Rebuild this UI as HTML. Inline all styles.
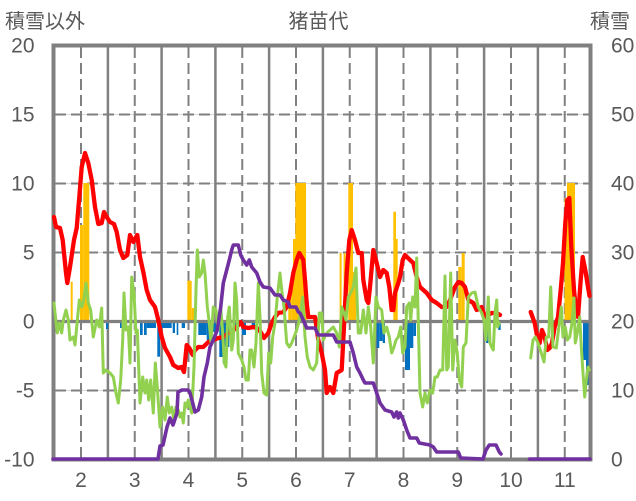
<!DOCTYPE html>
<html><head><meta charset="utf-8"><style>
html,body{margin:0;padding:0;background:#fff;}
svg{display:block;}
text{font-family:"Liberation Sans","Noto Sans CJK JP",sans-serif;fill:#595959;}
.cjk{font-family:"Liberation Sans","Noto Sans CJK JP",sans-serif;font-size:20px;}
.num{font-size:21px;}
</style></head><body>
<svg width="636" height="501" viewBox="0 0 636 501" xmlns="http://www.w3.org/2000/svg">
<rect width="636" height="501" fill="#fff"/>
<!-- light grid -->
<g stroke="#D9D9D9" stroke-width="1">
<line x1="55" y1="114.5" x2="589" y2="114.5"/><line x1="55" y1="183.5" x2="589" y2="183.5"/>
<line x1="55" y1="252.5" x2="589" y2="252.5"/><line x1="55" y1="390.5" x2="589" y2="390.5"/>
</g>
<!-- dashed horizontal -->
<g stroke="#808080" stroke-width="2" stroke-dasharray="11 5" fill="none">
<line x1="55" y1="114.5" x2="589" y2="114.5"/><line x1="55" y1="183.5" x2="589" y2="183.5"/>
<line x1="55" y1="252.5" x2="589" y2="252.5"/><line x1="55" y1="390.5" x2="589" y2="390.5"/>
</g>
<!-- vertical dashed at month centers -->
<g stroke="#808080" stroke-width="2" stroke-dasharray="11 5" fill="none">
<line x1="81" y1="47" x2="81" y2="458"/><line x1="134.75" y1="47" x2="134.75" y2="458"/>
<line x1="188.5" y1="47" x2="188.5" y2="458"/><line x1="242.25" y1="47" x2="242.25" y2="458"/>
<line x1="296" y1="47" x2="296" y2="458"/><line x1="349.75" y1="47" x2="349.75" y2="458"/>
<line x1="403.5" y1="47" x2="403.5" y2="458"/><line x1="457.25" y1="47" x2="457.25" y2="458"/>
<line x1="511" y1="47" x2="511" y2="458"/><line x1="564.75" y1="47" x2="564.75" y2="458"/>
</g>
<!-- vertical solid at month boundaries -->
<g stroke="#808080" stroke-width="2.5">
<line x1="107.9" y1="45" x2="107.9" y2="459"/><line x1="161.6" y1="45" x2="161.6" y2="459"/>
<line x1="215.4" y1="45" x2="215.4" y2="459"/><line x1="269.1" y1="45" x2="269.1" y2="459"/>
<line x1="322.9" y1="45" x2="322.9" y2="459"/><line x1="376.6" y1="45" x2="376.6" y2="459"/>
<line x1="430.4" y1="45" x2="430.4" y2="459"/><line x1="484.1" y1="45" x2="484.1" y2="459"/>
<line x1="537.9" y1="45" x2="537.9" y2="459"/>
</g>
<!-- orange bars -->
<g fill="#FFC000">
<rect x="70.7" y="281.7" width="2" height="39.8"/>
<rect x="80" y="225" width="3.3" height="96.5"/>
<rect x="83.3" y="183" width="6" height="138.5"/>
<rect x="187.3" y="280.7" width="4.4" height="40.8"/>
<rect x="191.7" y="308" width="2.3" height="13.5"/>
<rect x="288.3" y="293" width="3.4" height="28.5"/>
<rect x="291.7" y="280.7" width="1.6" height="40.8"/>
<rect x="293" y="239" width="2.5" height="82.5"/>
<rect x="295.3" y="183" width="10.7" height="138.5"/>
<rect x="305" y="280.7" width="2.3" height="40.8"/>
<rect x="339.6" y="253" width="2" height="68.5"/>
<rect x="343.6" y="253" width="2" height="68.5"/>
<rect x="348.3" y="183" width="4.7" height="138.5"/>
<rect x="352.7" y="272" width="3.3" height="49.5"/>
<rect x="393.3" y="211.7" width="2.7" height="109.8"/>
<rect x="395.7" y="239" width="2" height="82.5"/>
<rect x="458.3" y="267" width="3.4" height="54.5"/>
<rect x="461.7" y="253" width="3" height="68.5"/>
<rect x="564.5" y="198" width="2.7" height="123.5"/>
<rect x="567" y="183" width="8" height="138.5"/>
</g>
<!-- blue bars -->
<g fill="#0070C0">
<rect x="106" y="321" width="2.3" height="8"/>
<rect x="120" y="321" width="1.7" height="7"/>
<rect x="140" y="321" width="2.7" height="14"/>
<rect x="144" y="321" width="2.7" height="14"/>
<rect x="146.7" y="321" width="9.3" height="7"/>
<rect x="157.3" y="321" width="2.7" height="35.7"/>
<rect x="160" y="321" width="11.7" height="7"/>
<rect x="172.7" y="321" width="2.3" height="12"/>
<rect x="176.7" y="321" width="1.6" height="14"/>
<rect x="181.7" y="321" width="3.3" height="7"/>
<rect x="198.3" y="321" width="8.4" height="14"/>
<rect x="206.7" y="321" width="3.3" height="19"/>
<rect x="210" y="321" width="6" height="11"/>
<rect x="219.3" y="321" width="3.4" height="36"/>
<rect x="222.7" y="321" width="2.3" height="42"/>
<rect x="225" y="321" width="4.3" height="26"/>
<rect x="232.7" y="321" width="4" height="9"/>
<rect x="241.7" y="321" width="4.3" height="14"/>
<rect x="251.7" y="321" width="3.3" height="5"/>
<rect x="376.7" y="321" width="2.6" height="27"/>
<rect x="379.3" y="321" width="3.4" height="20"/>
<rect x="382.7" y="321" width="2.3" height="22"/>
<rect x="405" y="321" width="5" height="49"/>
<rect x="410" y="321" width="3.3" height="27"/>
<rect x="413.3" y="321" width="2.7" height="15"/>
<rect x="486" y="321" width="2.3" height="22"/>
<rect x="498.3" y="321" width="2.4" height="9"/>
<rect x="583" y="321" width="3" height="39"/>
<rect x="586" y="321" width="4" height="64"/>
</g>
<!-- zero line -->
<line x1="54" y1="321.5" x2="590" y2="321.5" stroke="#808080" stroke-width="3.3"/>
<!-- border -->
<rect x="53.5" y="45.5" width="537" height="414" fill="none" stroke="#808080" stroke-width="4"/>
<!-- red line -->
<g fill="none" stroke="#FF0000" stroke-width="4.3" stroke-linejoin="round" stroke-linecap="round">
<polyline points="54,217 56,227 60,228 62.7,240 66,273 67.3,283 70,267 74,240 76.7,228 79.3,197 81.7,167 85,153 88.3,163 91.7,180 95,207 98.3,224 101.7,223 104,212 106.7,217 110,222 114,224 116.7,232 120,250 123.3,258 127.3,255 130,235 133.3,242 137.3,235 140,257 143.3,272 146.7,290 150,300 155,307 158.3,320 161.7,337 165,348 170,357 173.3,365 178.3,368 181.7,367 184,372 186.7,345 189.3,348 192.7,355 195,350 198.3,347 203.3,347 208.3,342 213.3,340 218.3,338 223.3,337 228.3,333 231.7,332 236.7,327 240.7,322 243.3,327 248.3,328 253.3,327 256.7,328 260.7,332 264,338 268.3,333 271.7,323 275,317 278.3,313 283.3,312 286.7,307 290,293 293.3,273 296.7,260 299.3,253 303.3,260 305,280 306.7,303 308.3,317 311.7,317 315,317 318.3,340 321.7,353 325,370 326.7,393 330,387 333.3,393 336.7,373 341.7,370 343.3,340 346.7,273 349.3,240 351.7,230 355,240 358.3,253 361.7,253 363.3,280 366.7,300 368.3,303 370,287 373.3,250 376.7,263 380,277 383.3,270 386.7,273 389.3,287 391.7,310 393.3,310 395,293 398.3,283 400,277 402.7,260 405,255 410,260 413.3,263 416.7,277 420,287 426.7,293 431.7,300 436.7,303 441.7,307 446.7,307 450,300 455,287 458.3,282 461.7,283 465,287 468.3,300 473.3,303 476.7,310 481.7,307 485,317 488.3,315 491.7,313 496.7,313 500,315"/>
<polyline points="530.7,312 534.7,323 537.3,337 539.7,343 542,330 544.7,337 547.3,350 549.7,348 552,343 554.7,327 558,317 560.7,290 563,263 565.3,223 567.3,200 569.3,198 571.3,247 574,290 576.3,313 578,317 580.7,280 582.7,257 585.3,270 588,287 589.5,296"/>
</g>
<!-- green line -->
<g fill="none" stroke="#92D050" stroke-width="3" stroke-linejoin="round" stroke-linecap="round">
<polyline points="54,303 56,322 57.3,333 59.3,323 61.7,333 63.3,320 66,310 68.3,320 70,340 73.3,337 75,345 76.7,327 79.3,300 81.7,307 83.3,303 86,283 88.3,303 90.7,310 93.3,337 96.7,320 99.3,327 101.7,308 103.3,373 106,370 110,373 113.3,377 116,393 118.3,403 120.7,380 122.7,340 124,293 126,330 128.3,327 130,363 131.7,277 134,293 136,333 137.3,330 140,403 142.7,377 145,393 146.7,380 148.7,400 150.7,380 153.3,413 155.3,363 157.3,387 160,427 162.7,407 165,420 167.3,397 169.3,413 171.7,407 174,420 176,407 178.3,410 180,417 181.7,413 183.3,423 185,403 186.7,407 188.3,400 190,407 191.7,413 194,367 196,290 197.3,250 199.3,277 201.7,273 203.3,260 205,273 207.3,307 209.3,323 211,343 213.3,307 216,310 218.3,330 220.7,307 222.7,333 224.3,363 226,367 227.7,317 229.3,307 231.7,350 233.3,340 235,283 236.7,300 238.3,353 241.7,360 244,367 246,380 248.3,380 250,350 251.7,350 254,367 256,343 258.3,283 260,317 261.7,373 264,393 266.7,395 268.7,353 270.7,363 272.7,337 275,323 277.3,297 280,273 281.7,290 284,307 286.7,343 289.3,347 291.7,343 294,337 296.7,330 299.3,320 302.7,297 305,337 307.3,357 310,367 313.3,370 316.7,363 319.3,313 321.7,313 323.3,340 326.7,333 330,330 333.3,327 336.7,333 339.3,347 341.7,307 344,313 346,320 348.3,297 350.7,293 353.3,287 356,268 358.3,333 360.7,333 363.3,310 366,333 368.3,307 370.7,327 373.3,363 376,297 378.3,307 381.7,310 384,333 386.7,327 389.3,337 391.7,353 394,347 396,340 398.3,337 400.7,327 402.7,353 405,347 406.7,307 409.3,303 410.7,320 412.7,297 415,307 416.7,258 418.3,323 420,393 422.7,407 425,393 427.3,403 430,390 432.7,393 435,377 437.3,377 440,370 442.7,370 445,276 446.7,370 448.3,367 450.7,273 452.7,370 455,340 457.3,353 459.3,380 461.7,387 463.3,347 466,343 468.3,297 471.7,293 475,292 478.3,307 481.7,313 484,320 486,340 488.3,297 490,343 491.7,347 493.3,350 495,313 496.7,300 497.7,327 499.3,323"/>
<polyline points="530.7,358 533,340 535.3,337 538,343 541.3,353 544,362 546.3,337 548.7,337 550.7,287 553,347 556.3,348 559.7,320 561.3,307 563,337 565.3,327 567.3,340 569.7,337 572,323 574,298 575.3,343 577.3,333 579.7,317 581.3,347 583,373 584.7,397 586.3,380 588,367 589.5,370"/>
</g>
<!-- purple line -->
<g fill="none" stroke="#7030A0" stroke-width="3.6" stroke-linejoin="round" stroke-linecap="round">
<polyline points="53,459 158,459 160,446 163,445 167,427 170,418 173,425 177,413 178,392 182,390 188,390 190,393 192.7,403 195,412 198.3,410 201.7,397 204,377 207.3,363 210,347 213.3,340 217.3,330 220.7,307 223.3,283 226.7,270 229.3,260 231.7,250 233.3,245 238.3,245 240.7,255 243.3,260 246.7,265 249.3,260 251.7,267 256.7,273 260,282 263.3,287 270,288 275,295 280,295 283.3,300 288.3,302 290,307 296,307 298.3,312 300,313 303.3,320 306.7,328 315,328 318.3,335 333.3,335 336.7,342 350,342 353.3,353 356.7,367 360,373 363.3,380 365,383 373.3,383 376.7,393 380,403 385,410 391.7,412 394,417 396.7,412 398.3,418 400,413 403.3,420 406.7,430 410,438 416.7,438 419.3,443 430,445 433.3,447 436.7,452 458.3,452 460.7,458 483,459 486,450 489.3,445 496,445 499.3,452 501,454"/>
<polyline points="529.5,459 590,459"/>
</g>
<!-- titles -->
<text class="cjk" x="5" y="28">積雪以外</text>
<text class="cjk" x="318.5" y="28" text-anchor="middle">猪苗代</text>
<text class="cjk" x="590" y="28">積雪</text>
<!-- left axis labels -->
<g class="num" text-anchor="end">
<text class="num" x="34.5" y="52.5">20</text>
<text class="num" x="34.5" y="121.5">15</text>
<text class="num" x="34.5" y="190.5">10</text>
<text class="num" x="34.5" y="259.5">5</text>
<text class="num" x="34.5" y="328.5">0</text>
<text class="num" x="34.5" y="397.5">-5</text>
<text class="num" x="34.5" y="466.5">-10</text>
</g>
<!-- right axis labels -->
<g>
<text class="num" x="611" y="52.5">60</text>
<text class="num" x="611" y="121.5">50</text>
<text class="num" x="611" y="190.5">40</text>
<text class="num" x="611" y="259.5">30</text>
<text class="num" x="611" y="328.5">20</text>
<text class="num" x="611" y="397.5">10</text>
<text class="num" x="611" y="466.5">0</text>
</g>
<!-- bottom labels -->
<g text-anchor="middle">
<text class="num" x="81" y="487">2</text>
<text class="num" x="134.75" y="487">3</text>
<text class="num" x="188.5" y="487">4</text>
<text class="num" x="242.25" y="487">5</text>
<text class="num" x="296" y="487">6</text>
<text class="num" x="349.75" y="487">7</text>
<text class="num" x="403.5" y="487">8</text>
<text class="num" x="457.25" y="487">9</text>
<text class="num" x="511" y="487">10</text>
<text class="num" x="564.75" y="487">11</text>
</g>
</svg>
</body></html>
